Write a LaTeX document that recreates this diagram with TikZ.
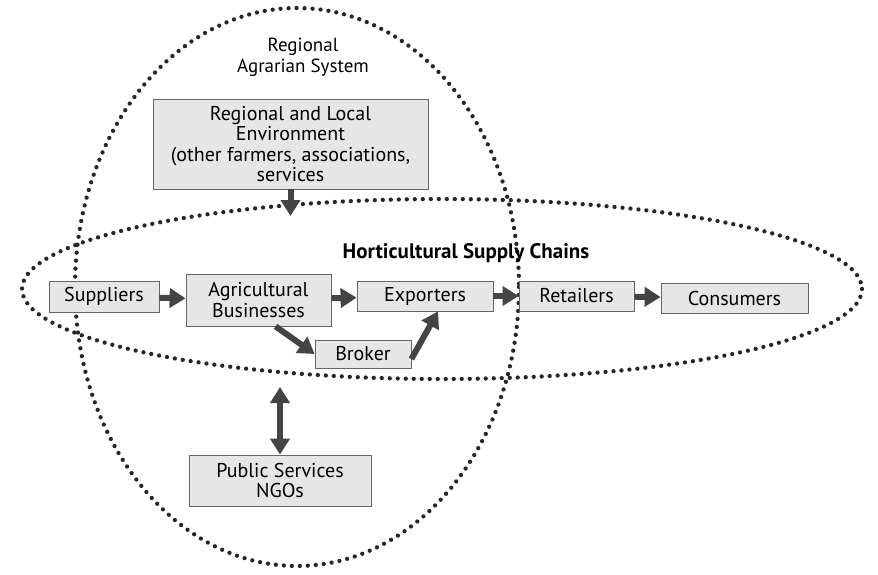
\documentclass[tikz,border=0pt]{standalone}
\usepackage{fontspec}
\setmainfont{PT Sans}
\usetikzlibrary{arrows.meta,positioning}

\definecolor{boxgray}{HTML}{E6E6E6}
\definecolor{arrgray}{HTML}{444444}

\tikzset{
  actor/.style={draw=black!60, line width=0.8pt, fill=boxgray, inner sep=1pt,
    align=center, font=\fontsize{20}{20.5}\selectfont},
  flow/.style={arrgray, line width=6pt, -{Triangle[length=16pt,width=19pt]}},
  twoflow/.style={arrgray, line width=6pt,
    {Triangle[length=16pt,width=19pt]}-{Triangle[length=16pt,width=19pt]}},
  dotline/.style={black!85, line width=4.3pt, line cap=round,
    dash pattern=on 0pt off 8pt}
}

\begin{document}
\begin{tikzpicture}[x=1pt, y=-1pt]
  \useasboundingbox (0,0) rectangle (878,575);

  % Systemgrenzen
  \draw[dotline] (297,287) ellipse [x radius=222, y radius=279];
  \draw[dotline] (442,289) ellipse [x radius=420, y radius=90];

  % Titel
  \node[align=center, font=\fontsize{19}{21}\selectfont] (rastitle) at (303,57) {Regional\\Agrarian System};
  \node[font=\fontsize{21}{23}\selectfont\bfseries] (hsctitle) at (466,253) {Horticultural Supply Chains};

  % Akteure
  \node[actor, minimum width=275, minimum height=90] (env) at (290.5,144)
    {Regional and Local\\Environment\\(other farmers, associations,\\services};
  \node[actor, minimum width=110, minimum height=31] (sup) at (104,296.5) {Suppliers};
  \node[actor, minimum width=145, minimum height=52] (agri) at (258.5,300) {Agricultural\\Businesses};
  \node[actor, minimum width=136, minimum height=30] (exp) at (425,296) {Exporters};
  \node[actor, minimum width=115, minimum height=30] (ret) at (576.5,296) {Retailers};
  \node[actor, minimum width=147, minimum height=30] (con) at (734.5,298) {Consumers};
  \node[actor, minimum width=96, minimum height=28] (bro) at (363,354) {Broker};
  \node[actor, minimum width=182, minimum height=51] (pub) at (280,480.5) {Public Services\\NGOs};

  \coordinate (hsctop) at (290.5,216);
  \coordinate (hscbottom) at (280,387);

  % Pfeile
  \draw[flow] (env.south) -- (hsctop);
  \draw[flow] (sup) -- (agri);
  \draw[flow] (agri) -- (exp);
  \draw[flow] (exp) -- (ret);
  \draw[flow] (ret) -- (con);
  \draw[flow] ([xshift=17]agri.south) -- (bro.west);
  \draw[flow] ([yshift=-5]bro.east) -- ([xshift=13]exp.south);
  \draw[twoflow] (hscbottom) -- (pub.north);
\end{tikzpicture}
\end{document}
